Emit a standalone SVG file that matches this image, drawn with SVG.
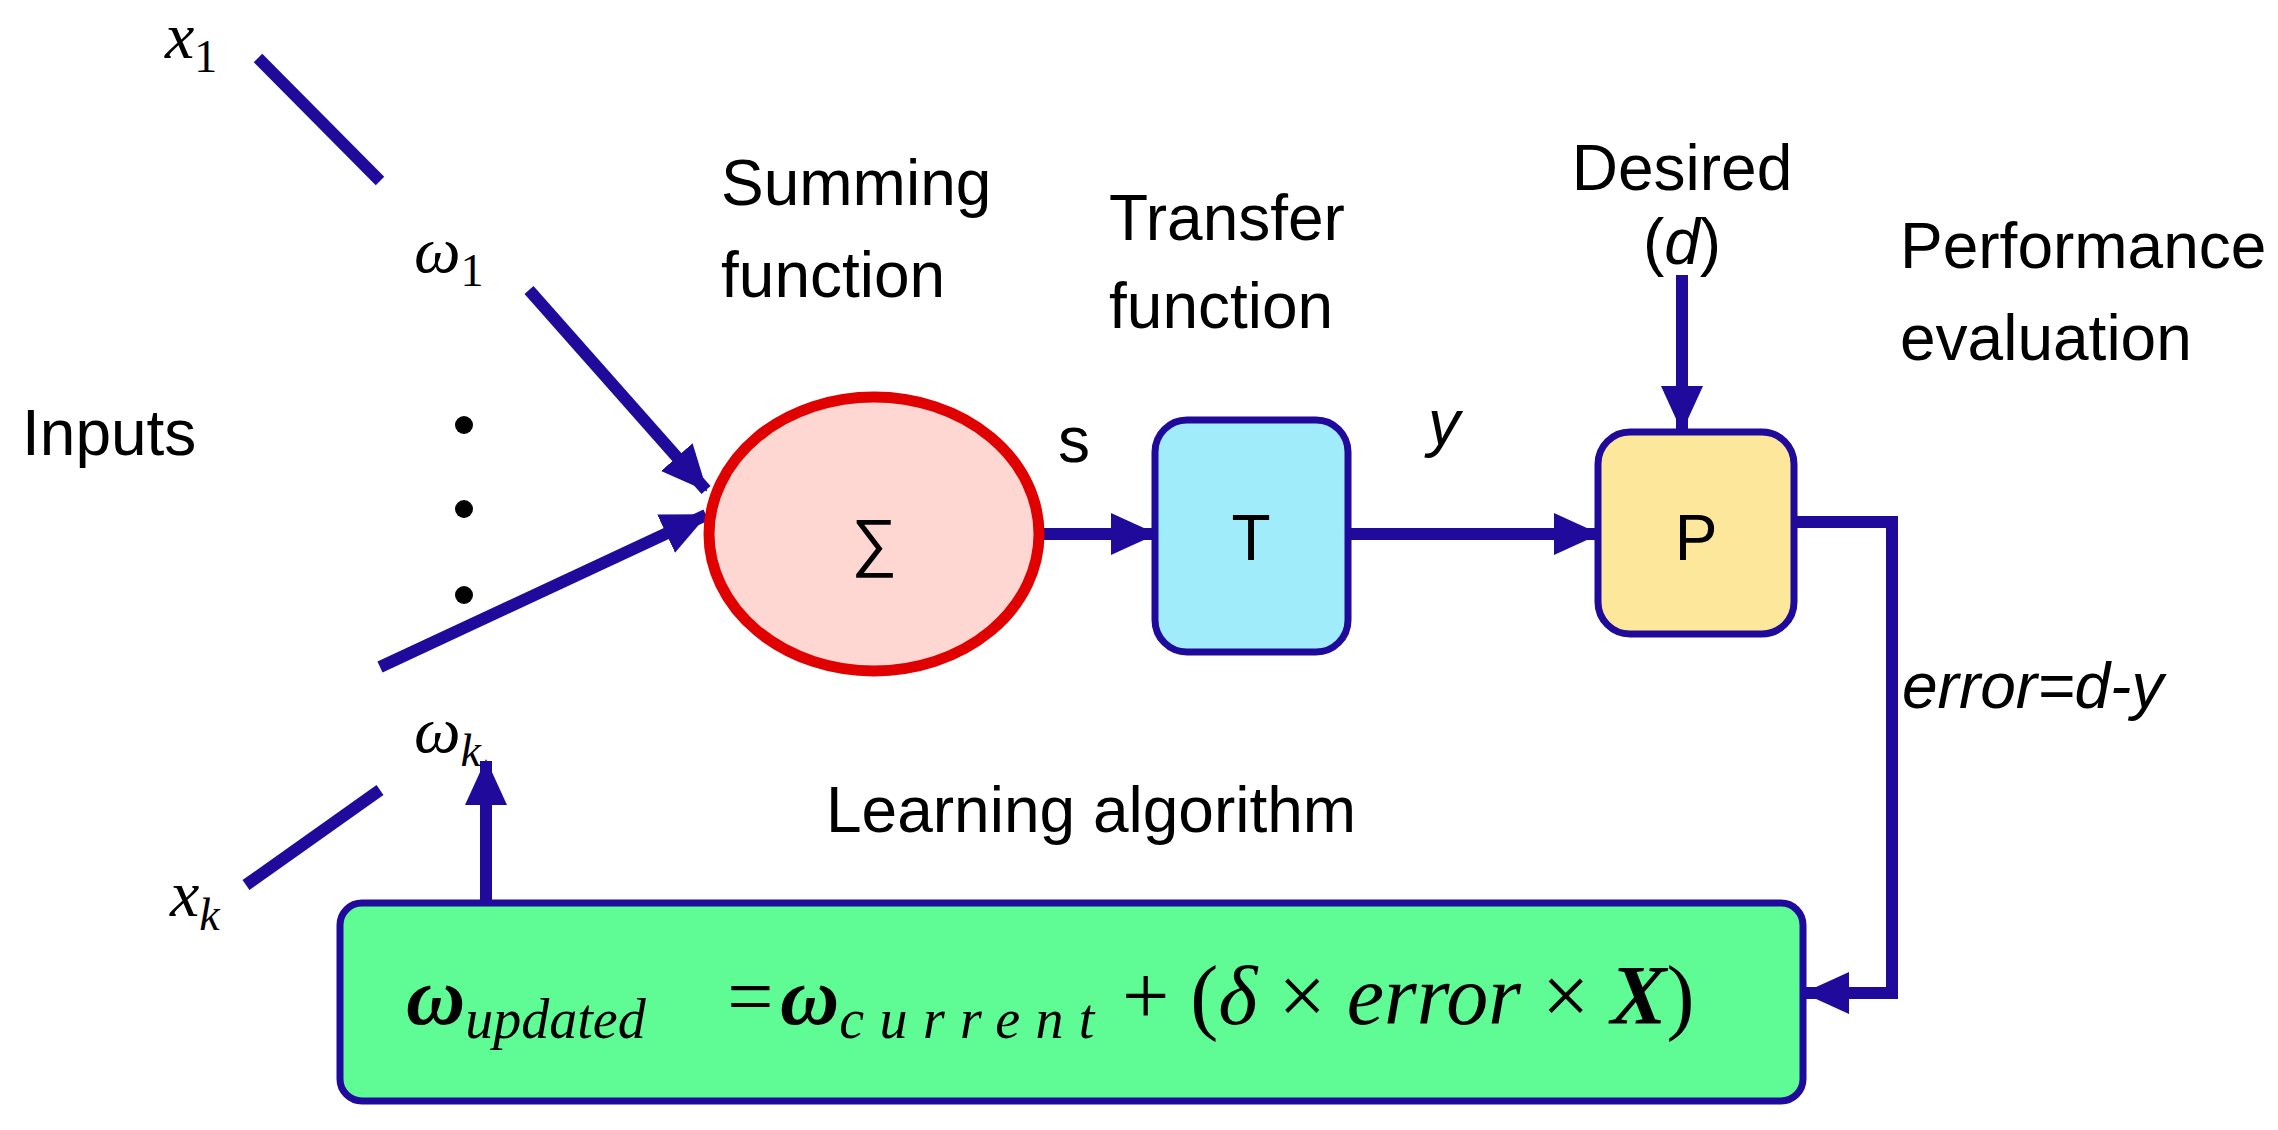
<svg xmlns="http://www.w3.org/2000/svg" width="2278" height="1130" viewBox="0 0 2278 1130">
<style>
.lbl{font-family:"Liberation Sans",Arial,sans-serif;font-size:64px;fill:#000}
.m{font-family:"Liberation Serif","Times New Roman",serif;font-style:italic;fill:#000}
.c{fill:none;stroke:#1f0a9c;stroke-width:12}
</style>
<defs>
<marker id="ah" markerUnits="userSpaceOnUse" markerWidth="46" markerHeight="46" viewBox="0 0 46 46" refX="44" refY="23" orient="auto">
<path d="M0,2 L46,23 L0,44 Z" fill="#1f0a9c"/>
</marker>
</defs>
<rect width="2278" height="1130" fill="#fff"/>
<g id="connectors">
<line class="c" x1="258" y1="58" x2="380" y2="181"/>
<line class="c" x1="529" y1="290" x2="706" y2="490" marker-end="url(#ah)"/>
<line class="c" x1="380" y1="667" x2="706" y2="515" marker-end="url(#ah)"/>
<line class="c" x1="246" y1="885" x2="380" y2="790"/>
<line class="c" x1="486" y1="902" x2="486" y2="761" marker-end="url(#ah)"/>
<line class="c" x1="1041" y1="534" x2="1155" y2="534" marker-end="url(#ah)"/>
<line class="c" x1="1348" y1="534" x2="1598" y2="534" marker-end="url(#ah)"/>
<line class="c" x1="1682" y1="275" x2="1682" y2="430" marker-end="url(#ah)"/>
<polyline class="c" points="1794,522 1892,522 1892,993 1805,993" marker-end="url(#ah)"/>
</g>
<g id="inputs">
<text class="m" x="165" y="58" font-size="66">x<tspan font-style="normal" font-size="46" dy="14">1</tspan></text>
<text class="m" x="414" y="272" font-size="66">ω<tspan font-style="normal" font-size="46" dy="14">1</tspan></text>
<circle cx="464" cy="425" r="9"/><circle cx="464" cy="509" r="9"/><circle cx="464" cy="595" r="9"/>
<text class="lbl" x="22" y="455">Inputs</text>
<text class="m" x="414" y="752" font-size="66">ω<tspan font-size="46" dy="14">k</tspan></text>
<text class="m" x="170" y="916" font-size="66">x<tspan font-size="46" dy="14">k</tspan></text>
</g>
<g id="sum">
<text class="lbl" x="721" y="205">Summing</text>
<text class="lbl" x="721" y="297">function</text>
<ellipse cx="874" cy="534" rx="165" ry="137" fill="#ffd7d2" stroke="#e00000" stroke-width="11"/>
<text class="lbl" x="874" y="564" text-anchor="middle" font-size="84">∑</text>
<text class="lbl" x="1058" y="462" font-size="78">s</text>
</g>
<g id="transfer">
<text class="lbl" x="1109" y="240">Transfer</text>
<text class="lbl" x="1109" y="328">function</text>
<rect x="1155" y="420" width="193" height="232" rx="32" fill="#a0ecfb" stroke="#1f0a9c" stroke-width="7"/>
<text class="lbl" x="1251" y="560" text-anchor="middle" font-size="76">T</text>
<text class="lbl" x="1428" y="445" font-size="78" font-style="italic">y</text>
</g>
<g id="perf">
<text class="lbl" x="1682" y="190" text-anchor="middle">Desired</text>
<text class="lbl" x="1682" y="264" text-anchor="middle">(<tspan font-style="italic">d</tspan>)</text>
<rect x="1598" y="432" width="196" height="202" rx="32" fill="#fde79a" stroke="#1f0a9c" stroke-width="7"/>
<text class="lbl" x="1696" y="560" text-anchor="middle" font-size="76">P</text>
<text class="lbl" x="1900" y="268" font-size="62">Performance</text>
<text class="lbl" x="1900" y="360" font-size="62">evaluation</text>
<text class="lbl" x="1902" y="708" font-size="54" font-style="italic">error=d-y</text>
</g>
<g id="learning">
<text class="lbl" x="826" y="832" font-size="66">Learning algorithm</text>
<rect x="340" y="903" width="1463" height="198" rx="22" fill="#5ffb94" stroke="#1f0a9c" stroke-width="7"/>
<text class="m" x="406" y="1024" font-size="82"><tspan font-weight="bold">ω</tspan><tspan font-size="56" dy="14">updated</tspan></text>
<text class="m" x="722" y="1024" font-size="82" font-style="normal">=</text>
<text class="m" x="780" y="1024" font-size="82"><tspan font-weight="bold">ω</tspan><tspan font-size="56" dy="14" textLength="255">current</tspan></text>
<text class="m" x="1122" y="1024" font-size="84"><tspan font-style="normal">+ (</tspan>δ<tspan font-style="normal"> × </tspan>error<tspan font-style="normal"> × </tspan><tspan font-weight="bold">X</tspan><tspan font-style="normal">)</tspan></text>
</g>
</svg>
